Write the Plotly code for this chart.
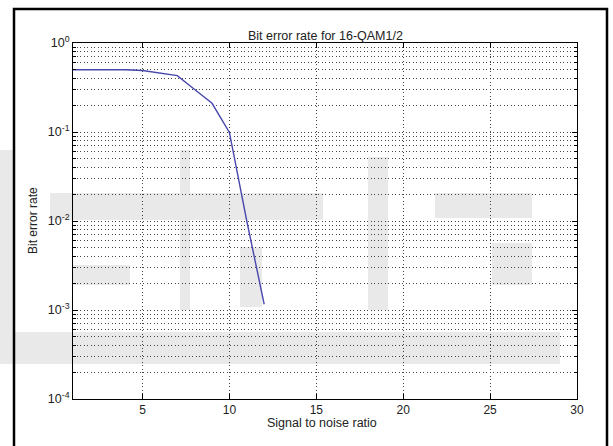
import plotly.graph_objects as go

# Bit error rate vs SNR for 16-QAM, rate 1/2
snr = [1, 2, 3, 4, 5, 6, 7, 8, 9, 10, 11, 12]
ber = [0.5, 0.5, 0.5, 0.5, 0.49, 0.46, 0.43, 0.30, 0.21, 0.099, 0.0100, 0.00116]

y_tickvals = [1e-4, 1e-3, 1e-2, 1e-1, 1e0]
y_ticktext = ["10<sup>-4</sup>", "10<sup>-3</sup>", "10<sup>-2</sup>", "10<sup>-1</sup>", "10<sup>0</sup>"]
y_minor = [m * 10.0 ** e for e in range(-4, 0) for m in range(2, 10)]

W, H = 613, 446
L, R, T, B = 73, 577, 43, 399
FONT = "Liberation Sans, Arial, sans-serif"


def px(x):
    return (x - L) / (R - L)


def py(y):
    return (B - y) / (B - T)


fig = go.Figure()
fig.add_trace(go.Scatter(
    x=snr, y=ber, mode="lines",
    line=dict(color="#4848ad", width=1.4),
    showlegend=False,
))

grid = dict(showgrid=True, gridcolor="#444444", griddash="1px,2.5px", gridwidth=1)

fig.update_layout(
    width=W, height=H,
    margin=dict(l=L, r=W - R, t=T, b=H - B),
    paper_bgcolor="white", plot_bgcolor="rgba(0,0,0,0)",
    font=dict(family=FONT, size=11, color="black"),
    xaxis=dict(
        range=[1, 30], tick0=5, dtick=5,
        ticks="inside", ticklen=5, tickcolor="black",
        showline=True, linecolor="black", linewidth=1, mirror="ticks",
        zeroline=False, tickfont=dict(size=12, family=FONT, color="#222222"),
        **grid,
    ),
    yaxis=dict(
        type="log", range=[-4, 0],
        tickmode="array", tickvals=y_tickvals, ticktext=y_ticktext,
        ticks="inside", ticklen=5, tickcolor="black",
        showline=True, linecolor="black", linewidth=1, mirror="ticks",
        zeroline=False, tickfont=dict(size=12.5, family=FONT, color="#222222"),
        minor=dict(tickmode="array", tickvals=y_minor, ticks="inside",
                   ticklen=3, tickcolor="black", **grid),
        **grid,
    ),
)

# faint watermark blocks behind the plot
wm = "#e9e9e9"
blocks = [
    (0, 150, 13, 350),
    (50, 193, 323, 220),
    (73, 265, 130, 285),
    (180, 150, 190, 310),
    (240, 193, 320, 220),
    (240, 247, 262, 307),
    (368, 157, 388, 310),
    (435, 193, 532, 218),
    (492, 243, 532, 285),
    (0, 332, 560, 364),
]
for x0, y0, x1, y1 in blocks:
    fig.add_shape(type="rect", xref="paper", yref="paper",
                  x0=px(x0), x1=px(x1), y0=py(y1), y1=py(y0),
                  fillcolor=wm, line=dict(width=0), layer="below")

# outer frame (left, top, right)
fig.add_shape(type="path", xref="paper", yref="paper",
              path=f"M {px(14)} {py(446)} L {px(14)} {py(9)} L {px(607)} {py(9)} L {px(607)} {py(446)}",
              line=dict(color="black", width=2.5), layer="above")

fig.add_annotation(text="Bit error rate for 16-QAM1/2", xref="paper", yref="paper",
                   x=px(325), y=py(27), showarrow=False, font=dict(size=12.5, color="#222222"))
fig.add_annotation(text="Signal to noise ratio", xref="paper", yref="paper",
                   x=px(322), y=py(432), showarrow=False, font=dict(size=12.5, color="#222222"))
fig.add_annotation(text="Bit error rate", xref="paper", yref="paper", textangle=-90,
                   x=px(33), y=py(221), xanchor="center", yanchor="middle",
                   showarrow=False, font=dict(size=12, color="#222222"))

fig.write_html("out.html")
